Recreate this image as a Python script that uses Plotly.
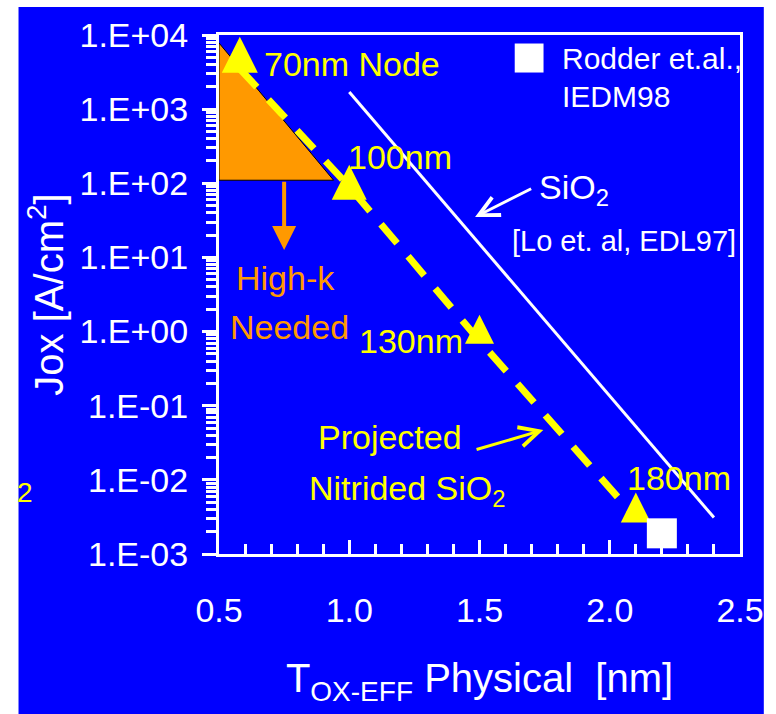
import math
import plotly.graph_objects as go

# Gate leakage current density vs. physical oxide thickness
node_labels = ["70nm Node", "100nm", "130nm", "180nm"]
node_tox = [0.58, 1.0, 1.5, 2.1]            # nm
node_jox = [3.5e3, 90.0, 0.75, 3.1e-3]      # A/cm^2 (projected nitrided SiO2)

sio2_tox = [1.0, 2.4]                       # Lo et al., EDL97
sio2_jox = [1.7e3, 3.1e-3]

rodder_tox = [2.2]                          # Rodder et al., IEDM98
rodder_jox = [1.9e-3]

highk_tox = [0.5, 0.5, 0.94, 0.5]           # "High-k needed" region
highk_jox = [7.8e3, 1.1e2, 1.1e2, 7.8e3]
highk_arrow_tip = 12.6

x_tick_vals = [0.5, 1.0, 1.5, 2.0, 2.5]
y_tick_vals = [1e-3, 1e-2, 1e-1, 1e0, 1e1, 1e2, 1e3, 1e4]
y_tick_text = ["1.E-03", "1.E-02", "1.E-01", "1.E+00",
               "1.E+01", "1.E+02", "1.E+03", "1.E+04"]
y_minor_vals = [d * 10.0 ** k for k in range(-3, 4) for d in range(2, 10)]

BLUE = "#0000FF"
YELLOW = "#FFFF00"
ORANGE = "#FF9900"
WHITE = "#FFFFFF"
FONT = "Liberation Sans, Arial, sans-serif"

fig = go.Figure()

# orange high-k wedge
fig.add_trace(go.Scatter(
    x=highk_tox, y=highk_jox, mode="lines", fill="toself",
    fillcolor=ORANGE, line=dict(color="#000000", width=1),
    hoverinfo="skip", showlegend=False))

# SiO2 reference line
fig.add_trace(go.Scatter(
    x=sio2_tox, y=sio2_jox, mode="lines",
    line=dict(color=WHITE, width=3), showlegend=False))

# projected nitrided SiO2 (dashed) with node triangles
fig.add_trace(go.Scatter(
    x=node_tox, y=node_jox, mode="lines+markers",
    line=dict(color=YELLOW, width=7, dash="25px,17px", backoff=0),
    marker=dict(symbol="arrow-down", angle=180, color=YELLOW, opacity=1,
                size=[36, 35, 29, 30], standoff=[32, 22, 26, 25],
                line=dict(width=0)),
    showlegend=False))

# Rodder data point
fig.add_trace(go.Scatter(
    x=rodder_tox, y=rodder_jox, mode="markers",
    marker=dict(symbol="square", size=30, color=WHITE, opacity=1,
                line=dict(width=0)),
    showlegend=False))

L = math.log10
ann = []


def label(text, x, y, color, size=34, xanchor="left"):
    ann.append(dict(text=text, x=x, y=y, xref="x", yref="y",
                    showarrow=False, xanchor=xanchor, yanchor="middle",
                    font=dict(family=FONT, size=size, color=color)))


label(node_labels[0], 0.664, 3.61, YELLOW)
label(node_labels[1], 0.988, 2.355, YELLOW)
label(node_labels[2], 1.03, -0.127, YELLOW)
label(node_labels[3], 2.058, -1.975, YELLOW)
label("High-k", 0.755, 0.72, ORANGE, xanchor="center")
label("Needed", 0.77, 0.06, ORANGE, xanchor="center")
label("Rodder et.al.,", 1.81, 3.677, WHITE, size=30)
label("IEDM98", 1.81, 3.164, WHITE, size=30)
label("SiO<sub>2</sub>", 1.719, 1.91, WHITE)
label("[Lo et. al, EDL97]", 1.616, 1.222, WHITE, size=29)
label("Projected", 0.873, -1.422, YELLOW)
label("Nitrided SiO<sub>2</sub>", 0.839, -2.137, YELLOW)

# arrows
ann.append(dict(x=0.75, y=L(highk_arrow_tip), ax=0.75, ay=L(highk_jox[1]),
                xref="x", yref="y", axref="x", ayref="y", text="",
                showarrow=True, arrowhead=2, arrowwidth=4, arrowsize=1.2,
                arrowcolor=ORANGE))
ann.append(dict(x=1.483, y=1.545, ax=1.704, ay=1.937,
                xref="x", yref="y", axref="x", ayref="y", text="",
                showarrow=True, arrowhead=5, arrowwidth=3, arrowsize=1.3,
                arrowcolor=WHITE))
ann.append(dict(x=1.745, y=-1.327, ax=1.483, ay=-1.597,
                xref="x", yref="y", axref="x", ayref="y", text="",
                showarrow=True, arrowhead=5, arrowwidth=3, arrowsize=1.3,
                arrowcolor=YELLOW))

# stray subscript at the left edge
ann.append(dict(text="2", x=-0.391, y=0.119, xref="paper", yref="paper",
                showarrow=False, xanchor="left", yanchor="middle",
                font=dict(family=FONT, size=28, color=YELLOW)))

shapes = [
    # blue slide background
    dict(type="rect", xref="paper", yref="paper", x0=-0.3848, x1=1.0457,
         y0=-0.3083, y1=1.054, fillcolor=BLUE, line=dict(width=0),
         layer="below"),
    # legend key for Rodder et al.
    dict(type="rect", xref="paper", yref="paper", x0=0.5676, x1=0.6229,
         y0=0.9277, y1=0.9836, fillcolor=WHITE, line=dict(width=0)),
]

fig.update_layout(
    width=776, height=714,
    margin=dict(l=219, r=32, t=35, b=160),
    paper_bgcolor=WHITE, plot_bgcolor=BLUE,
    font=dict(family=FONT, color=WHITE, size=34),
    annotations=ann, shapes=shapes, showlegend=False,
    xaxis=dict(
        range=[0.5, 2.5], tickmode="array", tickvals=x_tick_vals,
        tickformat=".1f", ticks="inside", ticklen=14, tickwidth=3,
        tickcolor=WHITE, showline=True, linecolor=WHITE, linewidth=3,
        mirror=True, showgrid=False, zeroline=False,
        ticklabelstandoff=24,
        tickfont=dict(family=FONT, size=34, color=WHITE),
        minor=dict(ticks="inside", ticklen=10, tickwidth=2.5,
                   tickcolor=WHITE, dtick=0.1, showgrid=False),
        title=dict(text="T<sub>OX-EFF</sub> Physical \u00a0[nm]",
                   font=dict(family=FONT, size=40, color=WHITE),
                   standoff=37),
    ),
    yaxis=dict(
        type="log", range=[-3, 4], tickmode="array", tickvals=y_tick_vals,
        ticktext=y_tick_text, ticks="outside", ticklen=14, tickwidth=3,
        tickcolor=WHITE, showline=True, linecolor=WHITE, linewidth=3,
        mirror=True, showgrid=False, zeroline=False,
        ticklabelstandoff=7,
        tickfont=dict(family=FONT, size=34, color=WHITE),
        minor=dict(ticks="outside", ticklen=10, tickwidth=2.5,
                   tickcolor=WHITE, tickmode="array", tickvals=y_minor_vals,
                   showgrid=False),
        title=dict(text="Jox [A/cm<sup>2</sup>]",
                   font=dict(family=FONT, size=40, color=WHITE),
                   standoff=4),
    ),
)

fig.write_html("out.html")
